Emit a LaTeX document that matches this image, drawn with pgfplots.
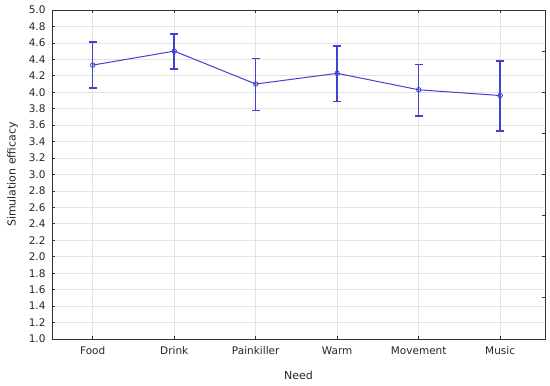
\documentclass[border=0pt]{standalone}
\usepackage{pgfplots}
\pgfplotsset{compat=1.18}
\usepackage{pgfplotstable}
\usepackage{fontspec}
\setmainfont{DejaVu Sans}
\definecolor{lineblue}{RGB}{65,65,210}
\pgfplotstableread{
x y ep em
0 4.33 0.28 0.28
1 4.50 0.21 0.22
2 4.10 0.31 0.32
3 4.23 0.33 0.34
4 4.03 0.31 0.32
5 3.96 0.42 0.43
}\datatab
\begin{document}
\begin{tikzpicture}
\begin{axis}[
  scale only axis,
  width=493pt, height=329pt,
  xmin=-0.5, xmax=5.55,
  ymin=1, ymax=5,
  xtick={0,1,2,3,4,5},
  xticklabels={Food,Drink,Painkiller,Warm,Movement,Music},
  ytick={1,1.2,...,5.01},
  yticklabel style={/pgf/number format/fixed, /pgf/number format/fixed zerofill, /pgf/number format/precision=1, xshift=-3pt},
  /pgf/number format/assume math mode=true,
  tick label style={font=\fontsize{10.5}{12}\selectfont, text=black!85},
  label style={font=\fontsize{11}{13}\selectfont, text=black!85},
  xlabel={Need}, ylabel={Simulation efficacy},
  grid=major,
  grid style={gray!22, line width=0.7pt},
  axis line style={black!80, line width=0.9pt},
  major tick length=3pt,
  tick style={black!80, line width=0.8pt},
  tick align=inside,
  ytick pos=left,
  xtick pos=both,
  xticklabel style={yshift=-4pt},
  xlabel style={yshift=-10pt},
  ylabel style={yshift=4pt},
  error bars/error bar style={draw=lineblue, line width=1.5pt},
  error bars/error mark options={draw=lineblue, rotate=90, mark size=4pt, line width=1.5pt},
]
\addplot[draw=lineblue, color=lineblue, line width=1pt, mark=o, mark size=2.3pt, mark options={draw=lineblue, fill=white, line width=0.8pt},
  error bars/.cd, y dir=both, y explicit]
  table[x=x, y=y, y error plus=ep, y error minus=em] {\datatab};
\end{axis}
\begin{axis}[
  scale only axis,
  width=493pt, height=329pt,
  xmin=-0.5, xmax=5.55,
  ymin=1, ymax=5,
  axis y line*=right,
  axis x line=none,
  ytick={1,1.5,...,5.01},
  yticklabels={},
  major tick length=3pt,
  tick style={black!80, line width=0.8pt},
  tick align=inside,
  axis line style={black!80, line width=0.9pt},
]
\end{axis}
\pgfresetboundingbox
\path[use as bounding box] ([shift={(-52pt,-47pt)}]current axis.south west) rectangle ([shift={(5pt,10pt)}]current axis.north east);
\end{tikzpicture}
\end{document}
